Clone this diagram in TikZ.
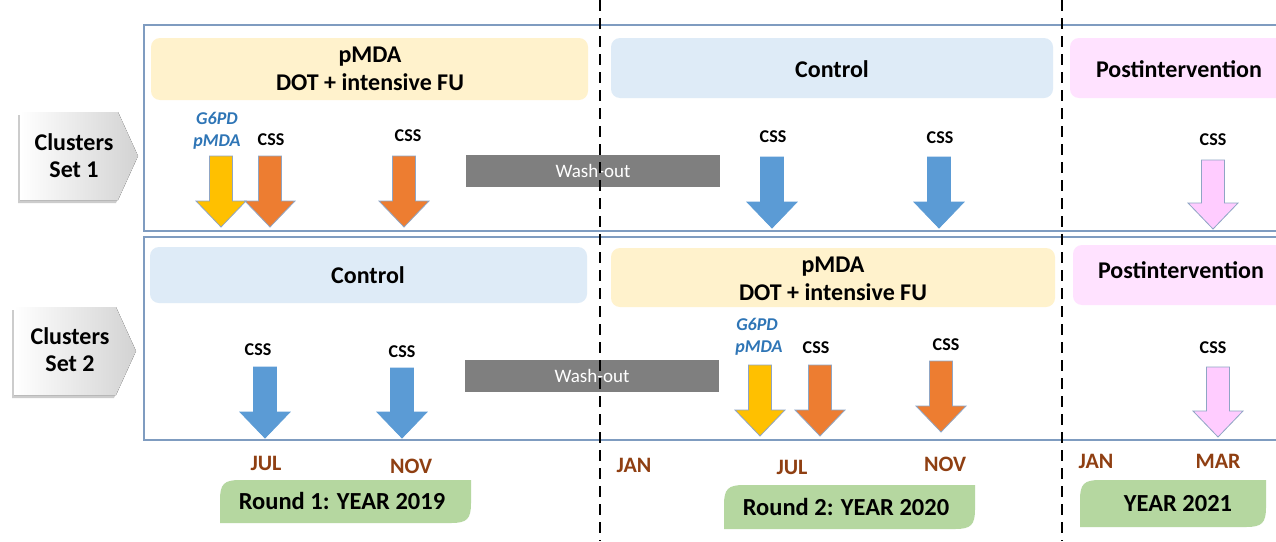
\documentclass[tikz,border=0pt]{standalone}
\usepackage{fontspec}
\setmainfont{Carlito}
\usetikzlibrary{shadows}
\definecolor{setborder}{HTML}{7F9CC0}
\definecolor{banyellow}{HTML}{FFF2CC}
\definecolor{banblue}{HTML}{DEEBF7}
\definecolor{banpink}{HTML}{FFE2FF}
\definecolor{arryellow}{HTML}{FFC000}
\definecolor{arrorange}{HTML}{ED7D31}
\definecolor{arrblue}{HTML}{5B9BD5}
\definecolor{arrpink}{HTML}{FFCCFF}
\definecolor{arredge}{HTML}{8FA5C4}
\definecolor{gtext}{HTML}{2E75B6}
\definecolor{month}{HTML}{8F3F12}
\definecolor{roundgreen}{HTML}{B5D7A0}
\definecolor{washgray}{HTML}{7F7F7F}
\newcommand{\bigarr}[5]{%
  \draw[fill=#4,draw=#5,line width=0.8pt,line join=miter]
    ({#1-11.5},#2) -- ({#1+11.5},#2) -- ({#1+11.5},{#3-26}) -- ({#1+25},{#3-26})
    -- (#1,#3) -- ({#1-25},{#3-26}) -- ({#1-11.5},{#3-26}) -- cycle;}
\newcommand{\greenbox}[5]{%
  \fill[roundgreen] (#1,#4) -- (#1,{#2+20}) .. controls (#1,{#2+4}) and ({#1+4},#2) .. ({#1+20},#2)
    -- (#3,#2) -- (#3,{#4-20}) .. controls (#3,{#4-4}) and ({#3-4},#4) .. ({#3-20},#4) -- cycle;
  \coordinate (#5) at ({(#1+#3)/2},{(#2+#4)/2});}
\begin{document}
\begin{tikzpicture}[x=1pt,y=-1pt,
  setbox/.style={draw=setborder,line width=1.6pt},
  banner/.style={rounded corners=9pt},
  bantext/.style={font=\bfseries\fontsize{24}{28}\selectfont,align=center},
  css/.style={font=\bfseries\fontsize{18}{20}\selectfont},
  gtxt/.style={font=\bfseries\itshape\fontsize{18}{20}\selectfont,text=gtext},
  mon/.style={font=\bfseries\fontsize{22}{24}\selectfont,text=month},
  wash/.style={fill=washgray,text=white,font=\fontsize{19}{21}\selectfont},
  cluster/.style={font=\bfseries\fontsize{24}{27}\selectfont,align=center},
  rtext/.style={font=\bfseries\fontsize{24.5}{27}\selectfont},
  divider/.style={line width=2.6pt,dash pattern=on 11pt off 7pt}]
\useasboundingbox (0,0) rectangle (1276,541);
\clip (0,0) rectangle (1276,541);
\fill[white] (0,0) rectangle (1276,541);

% set boxes
\draw[setbox] (1290,25) -- (144,25) -- (144,231) -- (1290,231);
\draw[setbox] (1290,237) -- (144,237) -- (144,440) -- (1290,440);

% banners row 1
\fill[banyellow,banner] (151,38) rectangle (588,100);
\node[bantext] (b1a) at (370,69) {pMDA\\DOT + intensive FU};
\fill[banblue,banner] (611,38) rectangle (1053,98);
\node[bantext] (b1b) at (832,69) {Control};
\fill[banpink,banner] (1070,38) rectangle (1290,98);
\node[bantext] (b1c) at (1179,69) {Postintervention};

% banners row 2
\fill[banblue,banner] (150,247) rectangle (587,303);
\node[bantext] (b2a) at (368,275) {Control};
\fill[banyellow,banner] (611,248) rectangle (1055,307);
\node[bantext] (b2b) at (833,279) {pMDA\\DOT + intensive FU};
\fill[banpink,banner] (1073,245) rectangle (1290,305);
\node[bantext] (b2c) at (1181,270) {Postintervention};

% wash-out bars
\node[wash,minimum width=254pt,minimum height=32pt,inner sep=0pt] (w1) at (593,171) {Wash-out};
\node[wash,minimum width=254pt,minimum height=32pt,inner sep=0pt] (w2) at (592,376) {Wash-out};

% dividers
\draw[divider] (600,0) -- (600,541);
\draw[divider] (1062,0) -- (1062,541);

% cluster labels
\fill[left color=white,right color=gray!35,drop shadow={shadow xshift=-2pt,shadow yshift=-3pt,opacity=0.4}]
  (20,112) -- (118,112) -- (138,156) -- (118,200) -- (20,200) -- cycle;
\node[cluster] (c1) at (74,156) {Clusters\\Set 1};
\fill[left color=white,right color=gray!35,drop shadow={shadow xshift=-2pt,shadow yshift=-3pt,opacity=0.4}]
  (14,307) -- (116,307) -- (136,351) -- (116,395) -- (14,395) -- cycle;
\node[cluster] (c2) at (70,350) {Clusters\\Set 2};

% arrows row 1
\bigarr{221}{156}{227}{arryellow}{arredge}
\bigarr{270}{156}{227}{arrorange}{arredge}
\bigarr{404}{156}{227}{arrorange}{arredge}
\bigarr{772}{157}{228}{arrblue}{arrblue}
\bigarr{939}{157}{228}{arrblue}{arrblue}
\bigarr{1213}{160}{229}{arrpink}{arredge}

% labels row 1
\node[gtxt] (g1) at (217,118) {G6PD};
\node[gtxt] (p1) at (217,142) {pMDA};
\node[css] (s11) at (271,140) {CSS};
\node[css] (s12) at (408,136) {CSS};
\node[css] (s13) at (773,137) {CSS};
\node[css] (s14) at (940,138) {CSS};
\node[css] (s15) at (1213,140) {CSS};

% arrows row 2
\bigarr{265}{367}{438}{arrblue}{arrblue}
\bigarr{402}{368}{438}{arrblue}{arrblue}
\bigarr{760}{365}{436}{arryellow}{arredge}
\bigarr{820}{365}{436}{arrorange}{arredge}
\bigarr{941}{361}{432}{arrorange}{arredge}
\bigarr{1218}{367}{437}{arrpink}{arredge}

% labels row 2
\node[gtxt] (g2) at (757,324) {G6PD};
\node[gtxt] (p2) at (759,348) {pMDA};
\node[css] (s21) at (258,350) {CSS};
\node[css] (s22) at (402,352) {CSS};
\node[css] (s23) at (816,348) {CSS};
\node[css] (s24) at (946,345) {CSS};
\node[css] (s25) at (1213,348) {CSS};

% months
\node[mon] (m1) at (266,463) {JUL};
\node[mon] (m2) at (411,466) {NOV};
\node[mon] (m3) at (634,465) {JAN};
\node[mon] (m4) at (792,467) {JUL};
\node[mon] (m5) at (945,464) {NOV};
\node[mon] (m6) at (1096,461) {JAN};
\node[mon] (m7) at (1218,461) {MAR};

% year boxes
\greenbox{220}{480}{471}{523}{y1}
\node[rtext] (t1) at (342,501) {Round 1: YEAR 2019};
\greenbox{724}{485}{975}{529}{y2}
\node[rtext] (t2) at (846,507) {Round 2: YEAR 2020};
\greenbox{1080}{480}{1266}{527}{y3}
\node[rtext] (t3) at (1178,504) {YEAR 2021};
\end{tikzpicture}
\end{document}
